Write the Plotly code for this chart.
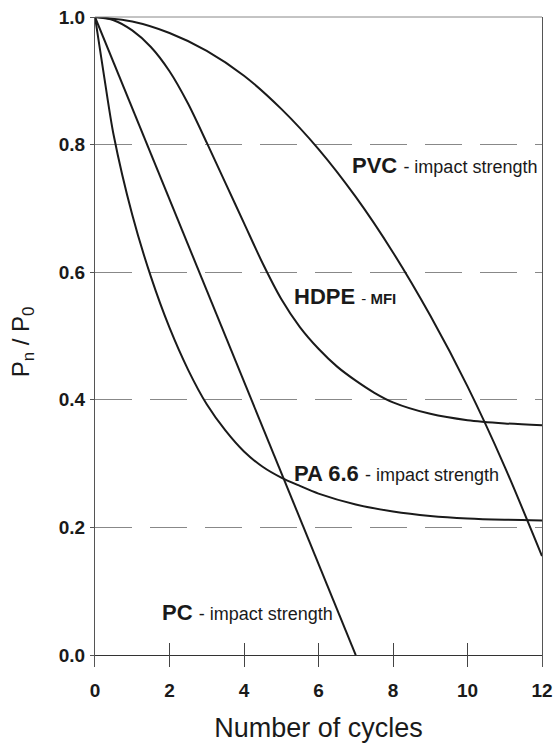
import plotly.graph_objects as go

# ---- data ----
pvc_x = [0, 1, 2, 3, 4, 5, 6, 7, 8, 9, 10, 11, 12]
pvc_y = [1.0, 0.993, 0.975, 0.947, 0.908, 0.856, 0.793, 0.718, 0.631, 0.532, 0.421, 0.295, 0.155]

hdpe_x = [0, 0.5, 1.0, 1.5, 2.0, 2.5, 3.0, 3.5, 4.0, 4.5, 5.0, 5.5, 6.0, 6.5, 7.0, 7.5, 8.0, 9.0, 10.0, 11.0, 12.0]
hdpe_y = [1.0, 0.995, 0.979, 0.953, 0.915, 0.864, 0.803, 0.74, 0.677, 0.614, 0.558, 0.514, 0.48, 0.452, 0.43, 0.411, 0.396, 0.378, 0.368, 0.363, 0.36]

pa_x = [0, 0.25, 0.5, 1.0, 1.5, 2.0, 2.5, 3.0, 3.5, 4.0, 4.5, 5.0, 5.5, 6.0, 7.0, 8.0, 9.0, 10.0, 11.0, 12.0]
pa_y = [1.0, 0.905, 0.815, 0.69, 0.593, 0.513, 0.447, 0.393, 0.352, 0.319, 0.295, 0.278, 0.265, 0.253, 0.236, 0.225, 0.218, 0.214, 0.212, 0.211]

pc_x = [0, 1.4, 2.8, 4.2, 5.6, 7.0]
pc_y = [1.0, 0.80, 0.60, 0.40, 0.20, 0.0]

x_ticks = [0, 2, 4, 6, 8, 10, 12]
y_ticks = [0.0, 0.2, 0.4, 0.6, 0.8, 1.0]
y_ticktext = ["0.0", "0.2", "0.4", "0.6", "0.8", "1.0"]

labels = [
    # (x, y, big text, small text html)
    (6.85, 0.767, "PVC", "<span style='font-size:18px'>- impact strength</span>"),
    (5.29, 0.562, "HDPE", "<span style='font-size:15px'>- <b>MFI</b></span>"),
    (5.29, 0.285, "PA 6.6", "<span style='font-size:18px'>- impact strength</span>"),
    (1.745, 0.067, "PC", "<span style='font-size:18px'>- impact strength</span>"),
]

FONT = "Liberation Sans, Arial, Helvetica, sans-serif"
INK = "#1a1a1a"

fig = go.Figure()
for xs, ys, shape in [(pvc_x, pvc_y, "spline"), (hdpe_x, hdpe_y, "spline"),
                      (pa_x, pa_y, "spline"), (pc_x, pc_y, "linear")]:
    fig.add_trace(go.Scatter(x=xs, y=ys, mode="lines",
                             line=dict(color=INK, width=2, shape=shape, smoothing=0.8),
                             hoverinfo="skip"))

for x, y, big, small in labels:
    fig.add_annotation(x=x, y=y, xref="x", yref="y", xanchor="left", yanchor="middle",
                       showarrow=False,
                       text=f"<b>{big}</b> {small}",
                       font=dict(family=FONT, size=22, color=INK))

fig.update_layout(
    width=553, height=751,
    margin=dict(l=95, r=11, t=17, b=84, autoexpand=False),
    plot_bgcolor="white", paper_bgcolor="white",
    showlegend=False,
    font=dict(family=FONT, color=INK),
    shapes=[dict(type="line", xref="paper", yref="paper", x0=0, x1=1, y0=1, y1=1,
                 line=dict(color="#888", width=1))],
)

fig.update_xaxes(
    range=[0, 12], tickvals=x_ticks, ticks="inside", ticklen=24, tickwidth=1,
    tickcolor="#444", showline=False, showgrid=False, zeroline=False, automargin=False,
    tickfont=dict(size=19, family=FONT, color=INK, weight="bold"),
    ticklabelstandoff=10,
    title=dict(text="Number of cycles", font=dict(size=27, family=FONT, color=INK), standoff=18),
)
fig.update_yaxes(
    range=[-0.0188, 1.0], tickvals=y_ticks, ticktext=y_ticktext,
    ticks="outside", ticklen=4, tickwidth=1, tickcolor="#555",
    showline=True, linecolor="#555", linewidth=1, mirror=True, automargin=False,
    showgrid=True, gridcolor="#888", gridwidth=1, griddash="37px,18px",
    zeroline=True, zerolinecolor="#333", zerolinewidth=1.2,
    tickfont=dict(size=19, family=FONT, color=INK, weight="bold"),
    ticklabelstandoff=1,
    title=dict(text="P<sub>n</sub> / P<sub>0</sub>", font=dict(size=24, family=FONT, color=INK), standoff=22),
)

fig.write_html("out.html")
